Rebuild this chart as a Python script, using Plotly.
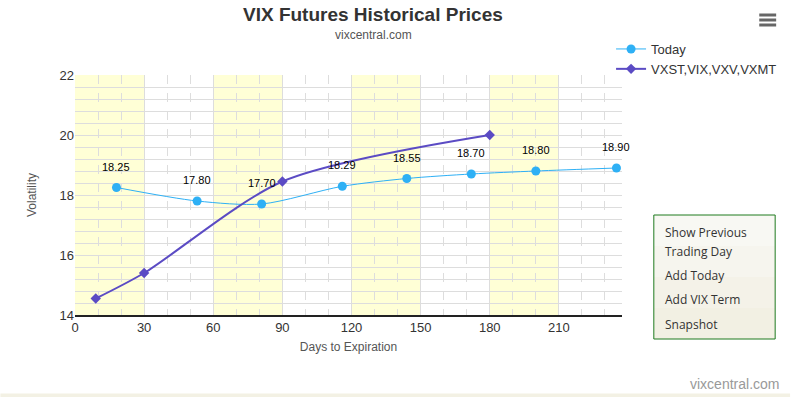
import plotly.graph_objects as go

# ---- data ----
today_days = [18, 53, 81, 116, 144, 172, 200, 235]
today_vals = [18.25, 17.80, 17.70, 18.29, 18.55, 18.70, 18.80, 18.90]
today_labels = ["18.25", "17.80", "17.70", "18.29", "18.55", "18.70", "18.80", "18.90"]

idx_days = [9, 30, 90, 180]
idx_vals = [14.55, 15.40, 18.45, 20.00]

bands = [(0, 30), (60, 90), (120, 150), (180, 210)]
x_ticks = [0, 30, 60, 90, 120, 150, 180, 210]
y_ticks = [14, 16, 18, 20, 22]
buttons = ["Show Previous", "Trading Day", "Add Today", "Add VIX Term", "Snapshot"]

# ---- layout geometry (pixels) ----
W, H = 794, 397
L, R, T, B = 75, 625, 75, 315
pw, ph = R - L, B - T


def px(x):
    return (x - L) / pw


def py(y):
    return (B - y) / ph


FONT = "Liberation Sans, Arial, sans-serif"

fig = go.Figure()

fig.add_trace(go.Scatter(
    x=today_days, y=today_vals, name="Today",
    mode="lines+markers",
    line=dict(color="#2EB0F5", width=1, shape="spline", smoothing=0.8),
    marker=dict(symbol="circle", size=9, color="#2EB0F5"),
    cliponaxis=False,
))
fig.add_trace(go.Scatter(
    x=idx_days, y=idx_vals, name="VXST,VIX,VXV,VXMT",
    mode="lines+markers",
    line=dict(color="#5B4BC4", width=2, shape="spline", smoothing=0.8),
    marker=dict(symbol="diamond", size=8, color="#5B4BC4"),
    cliponaxis=False,
))

shapes = []
for a, b in bands:
    shapes.append(dict(type="rect", xref="x", yref="y", x0=a, x1=b, y0=14, y1=22,
                       fillcolor="#FFFFD6", line=dict(width=0), layer="below"))

# hamburger icon
for yy in (15, 20, 25):
    shapes.append(dict(type="line", xref="paper", yref="paper",
                       x0=px(763), x1=px(780), y0=py(yy), y1=py(yy),
                       line=dict(color="#666", width=3)))
# buttons box (soft gradient imitation)
box_cols = ["#F8F8F3", "#F6F5EE", "#F4F2E8", "#F2F0E3"]
seg = (339 - 215) / len(box_cols)
for i, c in enumerate(box_cols):
    shapes.append(dict(type="rect", xref="paper", yref="paper",
                       x0=px(657), x1=px(779), y0=py(215 + seg * (i + 1)), y1=py(215 + seg * i),
                       fillcolor=c, line=dict(width=0)))
shapes.append(dict(type="rect", xref="paper", yref="paper",
                   x0=px(657), x1=px(779), y0=py(339), y1=py(215),
                   fillcolor="rgba(0,0,0,0)", line=dict(color="#1E7A1E", width=1)))
# bottom strip
shapes.append(dict(type="rect", xref="paper", yref="paper",
                   x0=px(0), x1=px(W), y0=py(397), y1=py(393.5),
                   fillcolor="#F3F1E4", line=dict(width=0)))

annotations = [
    dict(text="<b>VIX Futures Historical Prices</b>", xref="paper", yref="paper",
         x=px(375), y=py(14), showarrow=False, xanchor="center", yanchor="middle",
         font=dict(size=19, color="#333", family=FONT)),
    dict(text="vixcentral.com", xref="paper", yref="paper",
         x=px(375), y=py(35), showarrow=False, xanchor="center", yanchor="middle",
         font=dict(size=12, color="#555", family=FONT)),
    dict(text="vixcentral.com", xref="paper", yref="paper",
         x=px(785), y=py(384), showarrow=False, xanchor="right", yanchor="middle",
         font=dict(size=14, color="#999", family=FONT)),
]
for xd, yv, lab in zip(today_days, today_vals, today_labels):
    annotations.append(dict(text=lab, xref="x", yref="y", x=xd, y=yv,
                            showarrow=False, xanchor="center", yanchor="middle",
                            yshift=21, font=dict(size=11, color="#000", family=FONT)))
btn_y = [232, 251, 275, 299, 324]
for txt, yy in zip(buttons, btn_y):
    annotations.append(dict(text=txt, xref="paper", yref="paper",
                            x=px(666), y=py(yy), showarrow=False,
                            xanchor="left", yanchor="middle",
                            font=dict(size=12, color="#333", family="Open Sans, sans-serif")))

fig.update_layout(
    width=W, height=H,
    margin=dict(l=L, r=W - R, t=T, b=H - B, pad=0),
    paper_bgcolor="white", plot_bgcolor="white",
    font=dict(family=FONT, color="#333"),
    showlegend=True,
    legend=dict(x=px(614), y=py(34), xanchor="left", yanchor="top",
                font=dict(size=13, color="#333", family=FONT),
                bgcolor="rgba(0,0,0,0)", itemwidth=30, tracegroupgap=0),
    shapes=shapes,
    annotations=annotations,
    xaxis=dict(
        range=[0, 237.4], tickvals=x_ticks, ticks="", showline=True,
        linecolor="#222", linewidth=1.5,
        showgrid=True, gridcolor="#DDDDDD", gridwidth=1,
        minor=dict(dtick=10, tick0=0, showgrid=True, gridcolor="#DDDDDD",
                   griddash="dash"),
        tickfont=dict(size=13, color="#333"),
        title=dict(text="Days to Expiration", font=dict(size=12, color="#555"),
                   standoff=8),
        zeroline=False, fixedrange=True,
    ),
    yaxis=dict(
        range=[14, 22], tickvals=y_ticks, ticks="", showline=False,
        showgrid=True, gridcolor="#DDDDDD", gridwidth=1,
        minor=dict(dtick=0.4, tick0=14, showgrid=True, gridcolor="#DDDDDD"),
        tickfont=dict(size=13, color="#333"),
        title=dict(text="Volatility", font=dict(size=12, color="#555"), standoff=20),
        zeroline=False, fixedrange=True,
    ),
)

fig.write_html("out.html", config={"displayModeBar": False},
               post_script="document.body.style.margin='0';")
